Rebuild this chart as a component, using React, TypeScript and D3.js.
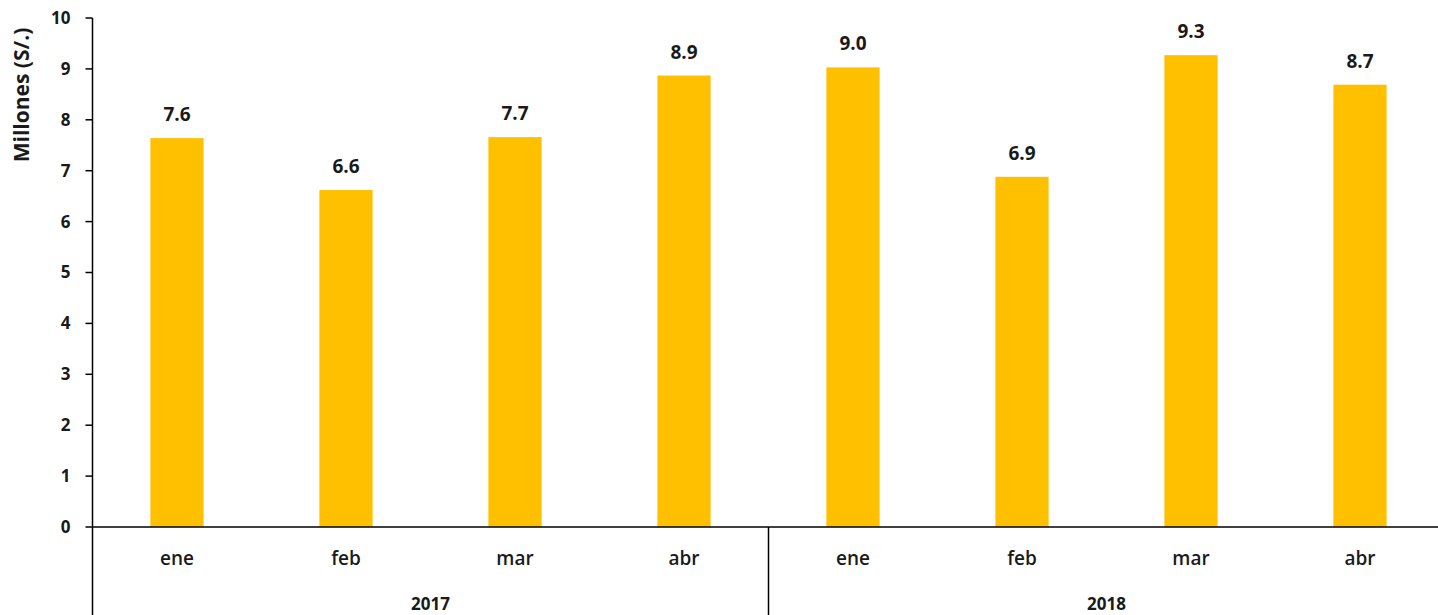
import React from "react";
import * as d3 from "d3";

const months = ["ene", "feb", "mar", "abr", "ene", "feb", "mar", "abr"];
const years = ["2017", "2018"];
const values = [7.64, 6.62, 7.66, 8.87, 9.03, 6.88, 9.27, 8.69];
const labels = ["7.6", "6.6", "7.7", "8.9", "9.0", "6.9", "9.3", "8.7"];
const yTicks = [0, 1, 2, 3, 4, 5, 6, 7, 8, 9, 10];

const W = 1438;
const H = 615;
const left = 92.5;
const right = 1444.5;
const top = 18;
const bottom = 527;
const font = "'Open Sans', 'Noto Sans', sans-serif";

export default function App() {
  const idx = months.map((_, i) => String(i));
  const x = d3.scaleBand<string>().domain(idx).range([left, right]).paddingInner(0.685).paddingOuter(0.3425);
  const y = d3.scaleLinear().domain([0, 10]).range([bottom, top]);
  const step = x.step();
  return (
    <svg width={W} height={H} style={{ position: "absolute", left: 0, top: 0, background: "#fff" }} fontFamily={font}>
      {values.map((v, i) => (
        <rect key={"b" + i} x={x(String(i))} y={y(v)} width={x.bandwidth()} height={y(0) - y(v)} fill="#FFC000" />
      ))}
      {values.map((v, i) => (
        <text key={"l" + i} x={(x(String(i)) as number) + x.bandwidth() / 2} y={y(v) - 17} textAnchor="middle" fontSize={19} fontWeight={700} fill="#1a1a1a">
          {labels[i]}
        </text>
      ))}
      {/* y axis */}
      <line x1={left} x2={left} y1={top} y2={H} stroke="#000" strokeWidth={1.5} />
      {yTicks.map((t) => (
        <g key={"t" + t}>
          <line x1={left - 7} x2={left} y1={y(t)} y2={y(t)} stroke="#000" strokeWidth={1.5} />
          <text x={left - 22} y={y(t)} dy="0.35em" textAnchor="end" fontSize={17} fontWeight={700} fill="#1a1a1a">
            {t}
          </text>
        </g>
      ))}
      {/* x axis */}
      <line x1={left} x2={W} y1={y(0)} y2={y(0)} stroke="#000" strokeWidth={1.5} />
      <line x1={left + step * 4} x2={left + step * 4} y1={y(0)} y2={H} stroke="#000" strokeWidth={1.5} />
      {months.map((m, i) => (
        <text key={"m" + i} x={(x(String(i)) as number) + x.bandwidth() / 2} y={565} textAnchor="middle" fontSize={19} fontWeight={600} fill="#1a1a1a">
          {m}
        </text>
      ))}
      {years.map((yr, j) => (
        <text key={"y" + yr} x={left + step * (4 * j + 2)} y={610} textAnchor="middle" fontSize={17} fontWeight={700} fill="#1a1a1a">
          {yr}
        </text>
      ))}
      <text transform={`translate(29,95) rotate(-90)`} textAnchor="middle" fontSize={21} fontWeight={700} fill="#1a1a1a">
        Millones (S/.)
      </text>
    </svg>
  );
}
